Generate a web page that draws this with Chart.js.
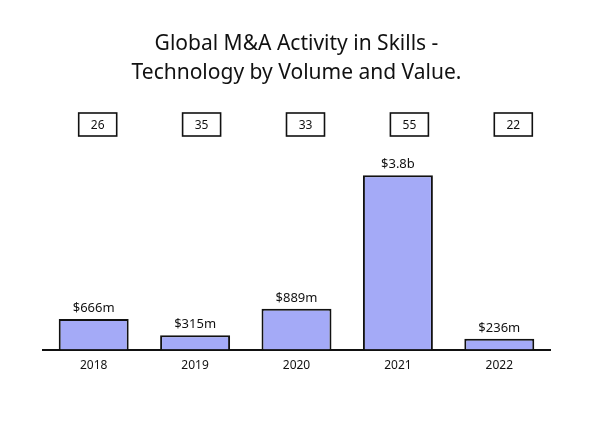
<!DOCTYPE html>
<html>
<head>
<meta charset="utf-8">
<script src="https://cdn.jsdelivr.net/npm/chart.js@4"></script>
<style>
  html, body { margin: 0; padding: 0; background: #fff; }
  #wrap { width: 600px; height: 424px; }
</style>
</head>
<body>
<div id="wrap"><canvas id="chart" width="600" height="424"></canvas></div>
<script>
// data
const years = ['2018', '2019', '2020', '2021', '2022'];
const dealValues = [666, 315, 889, 3800, 236];          // $ millions
const valueLabels = ['$666m', '$315m', '$889m', '$3.8b', '$236m'];
const dealCounts = [26, 35, 33, 55, 22];

const FONT = '"Noto Sans", "DejaVu Sans", sans-serif';

// value text above each bar + count boxes on top row
const annotate = {
    id: 'annotate',
    afterDatasetsDraw(chart) {
        const ctx = chart.ctx;
        const meta = chart.getDatasetMeta(0);
        ctx.save();
        ctx.fillStyle = '#111';
        ctx.textAlign = 'center';
        ctx.textBaseline = 'bottom';
        ctx.font = '13px ' + FONT;
        meta.data.forEach((bar, i) => {
            ctx.fillText(valueLabels[i], bar.x, bar.y - 4);
        });

        // volume boxes (hand-placed row drifts a little right)
        ctx.font = '12px ' + FONT;
        ctx.textBaseline = 'middle';
        ctx.strokeStyle = '#111';
        ctx.lineWidth = 1.6;
        meta.data.forEach((bar, i) => {
            const cx = bar.x + 4 + 2.5 * i;
            const cy = 124.5;
            ctx.strokeRect(cx - 19, cy - 11.5, 38, 23);
            ctx.fillText(String(dealCounts[i]), cx, cy + 1);
        });
        ctx.restore();
    }
};

new Chart(document.getElementById('chart'), {
    type: 'bar',
    data: {
        labels: years,
        datasets: [{
            data: dealValues,
            backgroundColor: '#a4aaf7',
            borderColor: '#111',
            borderWidth: 2,
            borderSkipped: 'bottom',
            barPercentage: 0.69,
            categoryPercentage: 1
        }]
    },
    options: {
        responsive: false,
        animation: false,
        layout: { padding: { left: 43, right: 50, top: 0, bottom: 42 } },
        plugins: {
            legend: { display: false },
            tooltip: { enabled: false },
            title: {
                display: true,
                text: ['Global M&A Activity in Skills -', 'Technology by Volume and Value.'],
                color: '#111',
                font: { family: FONT, size: 21, weight: 'normal', lineHeight: 1.38 },
                padding: { top: 30, bottom: 62 }
            }
        },
        scales: {
            x: {
                grid: { display: false, drawTicks: false },
                border: { display: true, color: '#111', width: 2 },
                ticks: { color: '#111', font: { family: FONT, size: 12 }, padding: 9 }
            },
            y: {
                display: false,
                min: 0,
                max: 4350
            }
        }
    },
    plugins: [annotate]
});
</script>
</body>
</html>
